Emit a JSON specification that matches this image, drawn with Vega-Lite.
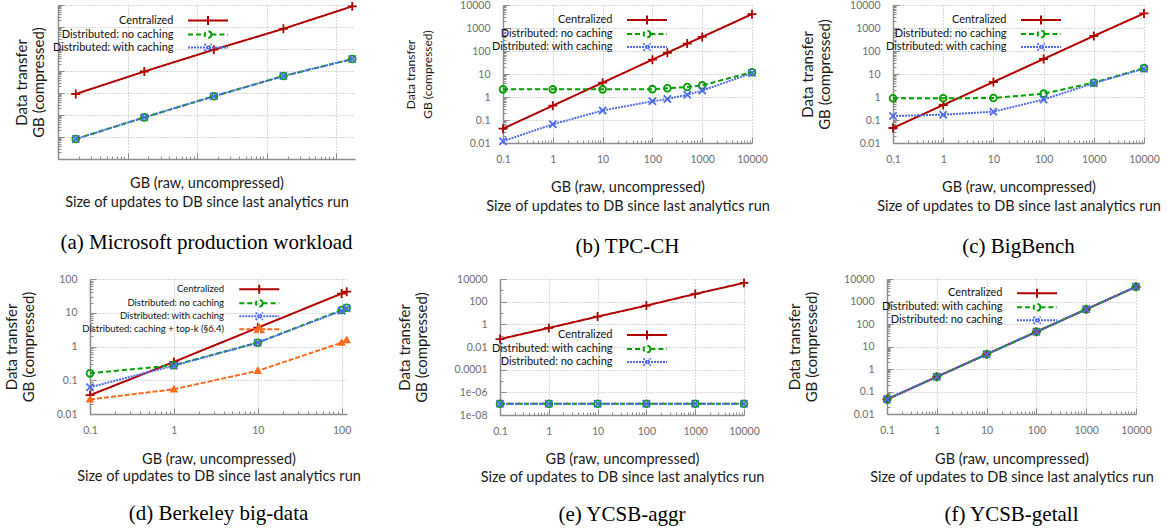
{
  "$schema": "https://vega.github.io/schema/vega-lite/v6.json",
  "background": "white",
  "padding": {"left": 4, "top": -2, "right": 5, "bottom": 5},
  "bounds": "flush",
  "spacing": 274,
  "resolve": {"scale": {"color": "independent", "strokeDash": "independent", "shape": "independent"}},
  "datasets": {
    "a": [
      {"x": 0.18, "y": 0.9, "s": "Centralized"}, {"x": 1.74, "y": 9.5, "s": "Centralized"}, {"x": 17.4, "y": 93, "s": "Centralized"}, {"x": 174, "y": 830, "s": "Centralized"}, {"x": 1700, "y": 8700, "s": "Centralized"},
      {"x": 0.18, "y": 0.0081, "s": "Distributed: no caching"}, {"x": 1.74, "y": 0.078, "s": "Distributed: no caching"}, {"x": 17.4, "y": 0.71, "s": "Distributed: no caching"}, {"x": 174, "y": 5.9, "s": "Distributed: no caching"}, {"x": 1700, "y": 35, "s": "Distributed: no caching"},
      {"x": 0.18, "y": 0.0081, "s": "Distributed: with caching"}, {"x": 1.74, "y": 0.078, "s": "Distributed: with caching"}, {"x": 17.4, "y": 0.71, "s": "Distributed: with caching"}, {"x": 174, "y": 5.9, "s": "Distributed: with caching"}, {"x": 1700, "y": 35, "s": "Distributed: with caching"}
    ],
    "b": [
      {"x": 0.1, "y": 0.042, "s": "Centralized"}, {"x": 1, "y": 0.42, "s": "Centralized"}, {"x": 10, "y": 4.2, "s": "Centralized"}, {"x": 100, "y": 42, "s": "Centralized"}, {"x": 200, "y": 84, "s": "Centralized"}, {"x": 500, "y": 210, "s": "Centralized"}, {"x": 1000, "y": 410, "s": "Centralized"}, {"x": 10000, "y": 4000, "s": "Centralized"},
      {"x": 0.1, "y": 2.15, "s": "Distributed: no caching"}, {"x": 1, "y": 2.15, "s": "Distributed: no caching"}, {"x": 10, "y": 2.15, "s": "Distributed: no caching"}, {"x": 100, "y": 2.2, "s": "Distributed: no caching"}, {"x": 200, "y": 2.4, "s": "Distributed: no caching"}, {"x": 500, "y": 2.7, "s": "Distributed: no caching"}, {"x": 1000, "y": 3.2, "s": "Distributed: no caching"}, {"x": 10000, "y": 12, "s": "Distributed: no caching"},
      {"x": 0.1, "y": 0.012, "s": "Distributed: with caching"}, {"x": 1, "y": 0.065, "s": "Distributed: with caching"}, {"x": 10, "y": 0.26, "s": "Distributed: with caching"}, {"x": 100, "y": 0.65, "s": "Distributed: with caching"}, {"x": 200, "y": 0.82, "s": "Distributed: with caching"}, {"x": 500, "y": 1.25, "s": "Distributed: with caching"}, {"x": 1000, "y": 1.9, "s": "Distributed: with caching"}, {"x": 10000, "y": 11, "s": "Distributed: with caching"}
    ],
    "c": [
      {"x": 0.1, "y": 0.045, "s": "Centralized"}, {"x": 1, "y": 0.45, "s": "Centralized"}, {"x": 10, "y": 4.5, "s": "Centralized"}, {"x": 100, "y": 45, "s": "Centralized"}, {"x": 1000, "y": 450, "s": "Centralized"}, {"x": 10000, "y": 4300, "s": "Centralized"},
      {"x": 0.1, "y": 0.88, "s": "Distributed: no caching"}, {"x": 1, "y": 0.88, "s": "Distributed: no caching"}, {"x": 10, "y": 0.9, "s": "Distributed: no caching"}, {"x": 100, "y": 1.4, "s": "Distributed: no caching"}, {"x": 1000, "y": 4.2, "s": "Distributed: no caching"}, {"x": 10000, "y": 18, "s": "Distributed: no caching"},
      {"x": 0.1, "y": 0.15, "s": "Distributed: with caching"}, {"x": 1, "y": 0.17, "s": "Distributed: with caching"}, {"x": 10, "y": 0.23, "s": "Distributed: with caching"}, {"x": 100, "y": 0.78, "s": "Distributed: with caching"}, {"x": 1000, "y": 4.0, "s": "Distributed: with caching"}, {"x": 10000, "y": 17, "s": "Distributed: with caching"}
    ],
    "d": [
      {"x": 0.1, "y": 0.036, "s": "Centralized"}, {"x": 1, "y": 0.35, "s": "Centralized"}, {"x": 10, "y": 3.6, "s": "Centralized"}, {"x": 100, "y": 37, "s": "Centralized"}, {"x": 115, "y": 42, "s": "Centralized"},
      {"x": 0.1, "y": 0.16, "s": "Distributed: no caching"}, {"x": 1, "y": 0.28, "s": "Distributed: no caching"}, {"x": 10, "y": 1.3, "s": "Distributed: no caching"}, {"x": 100, "y": 12, "s": "Distributed: no caching"}, {"x": 115, "y": 14, "s": "Distributed: no caching"},
      {"x": 0.1, "y": 0.062, "s": "Distributed: with caching"}, {"x": 1, "y": 0.27, "s": "Distributed: with caching"}, {"x": 10, "y": 1.3, "s": "Distributed: with caching"}, {"x": 100, "y": 11.5, "s": "Distributed: with caching"}, {"x": 115, "y": 13.5, "s": "Distributed: with caching"},
      {"x": 0.1, "y": 0.027, "s": "Distributed: caching + top-k (§6.4)"}, {"x": 1, "y": 0.054, "s": "Distributed: caching + top-k (§6.4)"}, {"x": 10, "y": 0.19, "s": "Distributed: caching + top-k (§6.4)"}, {"x": 100, "y": 1.3, "s": "Distributed: caching + top-k (§6.4)"}, {"x": 115, "y": 1.55, "s": "Distributed: caching + top-k (§6.4)"}
    ],
    "e": [
      {"x": 0.1, "y": 0.05, "s": "Centralized"}, {"x": 1, "y": 0.48, "s": "Centralized"}, {"x": 10, "y": 4.8, "s": "Centralized"}, {"x": 100, "y": 45, "s": "Centralized"}, {"x": 1000, "y": 480, "s": "Centralized"}, {"x": 10000, "y": 4500, "s": "Centralized"},
      {"x": 0.1, "y": 1e-7, "s": "Distributed: with caching"}, {"x": 1, "y": 1e-7, "s": "Distributed: with caching"}, {"x": 10, "y": 1e-7, "s": "Distributed: with caching"}, {"x": 100, "y": 1e-7, "s": "Distributed: with caching"}, {"x": 1000, "y": 1e-7, "s": "Distributed: with caching"}, {"x": 10000, "y": 1e-7, "s": "Distributed: with caching"},
      {"x": 0.1, "y": 1e-7, "s": "Distributed: no caching"}, {"x": 1, "y": 1e-7, "s": "Distributed: no caching"}, {"x": 10, "y": 1e-7, "s": "Distributed: no caching"}, {"x": 100, "y": 1e-7, "s": "Distributed: no caching"}, {"x": 1000, "y": 1e-7, "s": "Distributed: no caching"}, {"x": 10000, "y": 1e-7, "s": "Distributed: no caching"}
    ],
    "f": [
      {"x": 0.1, "y": 0.045, "s": "Centralized"}, {"x": 1, "y": 0.45, "s": "Centralized"}, {"x": 10, "y": 4.5, "s": "Centralized"}, {"x": 100, "y": 45, "s": "Centralized"}, {"x": 1000, "y": 450, "s": "Centralized"}, {"x": 10000, "y": 4500, "s": "Centralized"},
      {"x": 0.1, "y": 0.045, "s": "Distributed: with caching"}, {"x": 1, "y": 0.45, "s": "Distributed: with caching"}, {"x": 10, "y": 4.5, "s": "Distributed: with caching"}, {"x": 100, "y": 45, "s": "Distributed: with caching"}, {"x": 1000, "y": 450, "s": "Distributed: with caching"}, {"x": 10000, "y": 4500, "s": "Distributed: with caching"},
      {"x": 0.1, "y": 0.045, "s": "Distributed: no caching"}, {"x": 1, "y": 0.45, "s": "Distributed: no caching"}, {"x": 10, "y": 4.5, "s": "Distributed: no caching"}, {"x": 100, "y": 45, "s": "Distributed: no caching"}, {"x": 1000, "y": 450, "s": "Distributed: no caching"}, {"x": 10000, "y": 4500, "s": "Distributed: no caching"}
    ]
  },
  "vconcat": [
    {
      "bounds": "flush",
      "spacing": 148,
      "resolve": {"scale": {"color": "independent", "strokeDash": "independent", "shape": "independent"}},
      "hconcat": [
        {
          "width": 297, "height": 154,
          "title": {"text": "(a) Microsoft production workload", "offset": 23},
          "data": {"name": "a"},
          "resolve": {"scale": {"color": "independent", "strokeDash": "independent", "shape": "independent"}},
          "layer": [
            {
              "mark": {"type": "line", "strokeWidth": 2},
              "encoding": {
                "x": {"field": "x", "type": "quantitative", "scale": {"type": "log", "domain": [0.1, 1862], "nice": false},
                  "axis": {"labels": false, "title": ["GB (raw, uncompressed)", "Size of updates to DB since last analytics run"], "titlePadding": 17,
                    "gridOpacity": {"condition": {"test": "abs(log(datum.value)/LN10-round(log(datum.value)/LN10))<1e-6", "value": 1}, "value": 0},
                    "tickSize": {"condition": {"test": "abs(log(datum.value)/LN10-round(log(datum.value)/LN10))<1e-6", "value": -6}, "value": -3}}},
                "y": {"field": "y", "type": "quantitative", "scale": {"type": "log", "domain": [0.001, 10000], "nice": false},
                  "axis": {"labels": false, "title": ["Data transfer", "GB (compressed)"], "titlePadding": 11,
                    "gridOpacity": {"condition": {"test": "abs(log(datum.value)/LN10-round(log(datum.value)/LN10))<1e-6", "value": 1}, "value": 0},
                    "tickSize": {"condition": {"test": "abs(log(datum.value)/LN10-round(log(datum.value)/LN10))<1e-6", "value": -6}, "value": -3}}},
                "color": {"field": "s", "type": "nominal", "legend": null, "scale": {"domain": ["Centralized", "Distributed: no caching", "Distributed: with caching"], "range": ["#b00000", "#00a000", "#4f6be6"]}},
                "strokeDash": {"field": "s", "type": "nominal", "legend": null, "scale": {"domain": ["Centralized", "Distributed: no caching", "Distributed: with caching"], "range": [[1, 0], [5, 3], [2, 1]]}}
              }
            },
            {
              "mark": {"type": "point", "filled": false, "size": 81, "strokeWidth": 1.8, "opacity": 1},
              "encoding": {
                "x": {"field": "x", "type": "quantitative"},
                "y": {"field": "y", "type": "quantitative"},
                "color": {"field": "s", "type": "nominal", "legend": null, "scale": {"domain": ["Centralized", "Distributed: no caching", "Distributed: with caching"], "range": ["#b00000", "#00a000", "#4f6be6"]}},
                "shape": {"field": "s", "type": "nominal", "legend": null, "scale": {"domain": ["Centralized", "Distributed: no caching", "Distributed: with caching"], "range": ["M-1,0H1M0,-1V1", "M0.75,0A0.75,0.75 0 1,1 -0.75,0A0.75,0.75 0 1,1 0.75,0", "M-0.8,-0.8L0.8,0.8M-0.8,0.8L0.8,-0.8"]}}
              }
            },
            {
              "transform": [{"filter": "false"}],
              "mark": {"type": "point", "filled": false, "strokeWidth": 2, "opacity": 1},
              "encoding": {
                "color": {"field": "s", "type": "nominal", "legend": {"title": null, "legendX": 144.5, "legendY": 10.1}, "scale": {"domain": ["Centralized", "Distributed: no caching", "Distributed: with caching"], "range": ["#b00000", "#00a000", "#4f6be6"]}},
                "strokeDash": {"field": "s", "type": "nominal", "legend": {"title": null, "legendX": 144.5, "legendY": 10.1}, "scale": {"domain": ["Centralized", "Distributed: no caching", "Distributed: with caching"], "range": [[1, 0], [5, 3], [2, 1]]}},
                "shape": {"field": "s", "type": "nominal", "legend": {"title": null, "legendX": 144.5, "legendY": 10.1}, "scale": {"domain": ["Centralized", "Distributed: no caching", "Distributed: with caching"], "range": ["M-90,0L-90,0M-10,0H10M0,-2.25V2.25", "M-90,0L-90,0M-10,0H-1.7M1.7,0H10M1.7,0A1.7,1.7 0 1,1 -1.7,0A1.7,1.7 0 1,1 1.7,0", "M-90,0L-90,0M-10,0H10M-1.8,-1.8L1.8,1.8M-1.8,1.8L1.8,-1.8"]}}
              }
            }
          ]
        },
        {
          "bounds": "flush",
          "spacing": 141,
          "resolve": {"scale": {"color": "independent", "strokeDash": "independent", "shape": "independent"}},
          "hconcat": [
            {
              "width": 249, "height": 138,
              "title": {"text": "(b) TPC-CH", "offset": 23},
              "data": {"name": "b"},
              "resolve": {"scale": {"color": "independent", "strokeDash": "independent", "shape": "independent"}},
              "layer": [
                {
                  "mark": {"type": "line", "strokeWidth": 2},
                  "encoding": {
                    "x": {"field": "x", "type": "quantitative", "scale": {"type": "log", "domain": [0.1, 10000], "nice": false},
                      "axis": {"labelExpr": "abs(log(datum.value)/LN10-round(log(datum.value)/LN10))<1e-6 ? format(datum.value, '~f') : ''", "title": ["GB (raw, uncompressed)", "Size of updates to DB since last analytics run"], "titlePadding": 13,
                        "gridOpacity": {"condition": {"test": "abs(log(datum.value)/LN10-round(log(datum.value)/LN10))<1e-6", "value": 1}, "value": 0},
                        "tickSize": {"condition": {"test": "abs(log(datum.value)/LN10-round(log(datum.value)/LN10))<1e-6", "value": -6}, "value": -3}}},
                    "y": {"field": "y", "type": "quantitative", "scale": {"type": "log", "domain": [0.01, 10000], "nice": false},
                      "axis": {"labelExpr": "abs(log(datum.value)/LN10-round(log(datum.value)/LN10))<1e-6 ? format(datum.value, '~f') : ''", "title": ["Data transfer", "GB (compressed)"], "titlePadding": 25, "titleFontSize": 12,
                        "gridOpacity": {"condition": {"test": "abs(log(datum.value)/LN10-round(log(datum.value)/LN10))<1e-6", "value": 1}, "value": 0},
                        "tickSize": {"condition": {"test": "abs(log(datum.value)/LN10-round(log(datum.value)/LN10))<1e-6", "value": -6}, "value": -3}}},
                    "color": {"field": "s", "type": "nominal", "legend": null, "scale": {"domain": ["Centralized", "Distributed: no caching", "Distributed: with caching"], "range": ["#b00000", "#00a000", "#4f6be6"]}},
                    "strokeDash": {"field": "s", "type": "nominal", "legend": null, "scale": {"domain": ["Centralized", "Distributed: no caching", "Distributed: with caching"], "range": [[1, 0], [5, 3], [2, 1]]}}
                  }
                },
                {
                  "mark": {"type": "point", "filled": false, "size": 81, "strokeWidth": 1.8, "opacity": 1},
                  "encoding": {
                    "x": {"field": "x", "type": "quantitative"},
                    "y": {"field": "y", "type": "quantitative"},
                    "color": {"field": "s", "type": "nominal", "legend": null, "scale": {"domain": ["Centralized", "Distributed: no caching", "Distributed: with caching"], "range": ["#b00000", "#00a000", "#4f6be6"]}},
                    "shape": {"field": "s", "type": "nominal", "legend": null, "scale": {"domain": ["Centralized", "Distributed: no caching", "Distributed: with caching"], "range": ["M-1,0H1M0,-1V1", "M0.75,0A0.75,0.75 0 1,1 -0.75,0A0.75,0.75 0 1,1 0.75,0", "M-0.8,-0.8L0.8,0.8M-0.8,0.8L0.8,-0.8"]}}
                  }
                },
                {
                  "transform": [{"filter": "false"}],
                  "mark": {"type": "point", "filled": false, "strokeWidth": 2, "opacity": 1},
                  "encoding": {
                    "color": {"field": "s", "type": "nominal", "legend": {"title": null, "legendX": 138.5, "legendY": 9.5}, "scale": {"domain": ["Centralized", "Distributed: no caching", "Distributed: with caching"], "range": ["#b00000", "#00a000", "#4f6be6"]}},
                    "strokeDash": {"field": "s", "type": "nominal", "legend": {"title": null, "legendX": 138.5, "legendY": 9.5}, "scale": {"domain": ["Centralized", "Distributed: no caching", "Distributed: with caching"], "range": [[1, 0], [5, 3], [2, 1]]}},
                    "shape": {"field": "s", "type": "nominal", "legend": {"title": null, "legendX": 138.5, "legendY": 9.5}, "scale": {"domain": ["Centralized", "Distributed: no caching", "Distributed: with caching"], "range": ["M-90,0L-90,0M-10,0H10M0,-2.25V2.25", "M-90,0L-90,0M-10,0H-1.7M1.7,0H10M1.7,0A1.7,1.7 0 1,1 -1.7,0A1.7,1.7 0 1,1 1.7,0", "M-90,0L-90,0M-10,0H10M-1.8,-1.8L1.8,1.8M-1.8,1.8L1.8,-1.8"]}}
                  }
                }
              ]
            },
            {
              "width": 251, "height": 138,
              "title": {"text": "(c) BigBench", "offset": 23},
              "data": {"name": "c"},
              "resolve": {"scale": {"color": "independent", "strokeDash": "independent", "shape": "independent"}},
              "layer": [
                {
                  "mark": {"type": "line", "strokeWidth": 2},
                  "encoding": {
                    "x": {"field": "x", "type": "quantitative", "scale": {"type": "log", "domain": [0.1, 10000], "nice": false},
                      "axis": {"labelExpr": "abs(log(datum.value)/LN10-round(log(datum.value)/LN10))<1e-6 ? format(datum.value, '~f') : ''", "title": ["GB (raw, uncompressed)", "Size of updates to DB since last analytics run"], "titlePadding": 13,
                        "gridOpacity": {"condition": {"test": "abs(log(datum.value)/LN10-round(log(datum.value)/LN10))<1e-6", "value": 1}, "value": 0},
                        "tickSize": {"condition": {"test": "abs(log(datum.value)/LN10-round(log(datum.value)/LN10))<1e-6", "value": -6}, "value": -3}}},
                    "y": {"field": "y", "type": "quantitative", "scale": {"type": "log", "domain": [0.01, 10000], "nice": false},
                      "axis": {"labelExpr": "abs(log(datum.value)/LN10-round(log(datum.value)/LN10))<1e-6 ? format(datum.value, '~f') : ''", "title": ["Data transfer", "GB (compressed)"], "titlePadding": 17,
                        "gridOpacity": {"condition": {"test": "abs(log(datum.value)/LN10-round(log(datum.value)/LN10))<1e-6", "value": 1}, "value": 0},
                        "tickSize": {"condition": {"test": "abs(log(datum.value)/LN10-round(log(datum.value)/LN10))<1e-6", "value": -6}, "value": -3}}},
                    "color": {"field": "s", "type": "nominal", "legend": null, "scale": {"domain": ["Centralized", "Distributed: no caching", "Distributed: with caching"], "range": ["#b00000", "#00a000", "#4f6be6"]}},
                    "strokeDash": {"field": "s", "type": "nominal", "legend": null, "scale": {"domain": ["Centralized", "Distributed: no caching", "Distributed: with caching"], "range": [[1, 0], [5, 3], [2, 1]]}}
                  }
                },
                {
                  "mark": {"type": "point", "filled": false, "size": 81, "strokeWidth": 1.8, "opacity": 1},
                  "encoding": {
                    "x": {"field": "x", "type": "quantitative"},
                    "y": {"field": "y", "type": "quantitative"},
                    "color": {"field": "s", "type": "nominal", "legend": null, "scale": {"domain": ["Centralized", "Distributed: no caching", "Distributed: with caching"], "range": ["#b00000", "#00a000", "#4f6be6"]}},
                    "shape": {"field": "s", "type": "nominal", "legend": null, "scale": {"domain": ["Centralized", "Distributed: no caching", "Distributed: with caching"], "range": ["M-1,0H1M0,-1V1", "M0.75,0A0.75,0.75 0 1,1 -0.75,0A0.75,0.75 0 1,1 0.75,0", "M-0.8,-0.8L0.8,0.8M-0.8,0.8L0.8,-0.8"]}}
                  }
                },
                {
                  "transform": [{"filter": "false"}],
                  "mark": {"type": "point", "filled": false, "strokeWidth": 2, "opacity": 1},
                  "encoding": {
                    "color": {"field": "s", "type": "nominal", "legend": {"title": null, "legendX": 142.5, "legendY": 9.5}, "scale": {"domain": ["Centralized", "Distributed: no caching", "Distributed: with caching"], "range": ["#b00000", "#00a000", "#4f6be6"]}},
                    "strokeDash": {"field": "s", "type": "nominal", "legend": {"title": null, "legendX": 142.5, "legendY": 9.5}, "scale": {"domain": ["Centralized", "Distributed: no caching", "Distributed: with caching"], "range": [[1, 0], [5, 3], [2, 1]]}},
                    "shape": {"field": "s", "type": "nominal", "legend": {"title": null, "legendX": 142.5, "legendY": 9.5}, "scale": {"domain": ["Centralized", "Distributed: no caching", "Distributed: with caching"], "range": ["M-90,0L-90,0M-10,0H10M0,-2.25V2.25", "M-90,0L-90,0M-10,0H-1.7M1.7,0H10M1.7,0A1.7,1.7 0 1,1 -1.7,0A1.7,1.7 0 1,1 1.7,0", "M-90,0L-90,0M-10,0H10M-1.8,-1.8L1.8,1.8M-1.8,1.8L1.8,-1.8"]}}
                  }
                }
              ]
            }
          ]
        }
      ]
    },
    {
      "bounds": "flush",
      "spacing": 31,
      "resolve": {"scale": {"color": "independent", "strokeDash": "independent", "shape": "independent"}},
      "hconcat": [
        {"width": 1, "height": 1, "data": {"values": []}, "mark": "point"},
        {
          "bounds": "flush",
          "spacing": 153,
          "resolve": {"scale": {"color": "independent", "strokeDash": "independent", "shape": "independent"}},
          "hconcat": [
            {
              "width": 257, "height": 135,
              "title": {"text": "(d) Berkeley big-data", "offset": 20},
              "data": {"name": "d"},
              "resolve": {"scale": {"color": "independent", "strokeDash": "independent", "shape": "independent"}},
              "layer": [
                {
                  "mark": {"type": "line", "strokeWidth": 2},
                  "encoding": {
                    "x": {"field": "x", "type": "quantitative", "scale": {"type": "log", "domain": [0.1, 116], "nice": false},
                      "axis": {"labelExpr": "abs(log(datum.value)/LN10-round(log(datum.value)/LN10))<1e-6 ? format(datum.value, '~f') : ''", "title": ["GB (raw, uncompressed)", "Size of updates to DB since last analytics run"], "titlePadding": 14, "titleLineHeight": 17,
                        "gridOpacity": {"condition": {"test": "abs(log(datum.value)/LN10-round(log(datum.value)/LN10))<1e-6", "value": 1}, "value": 0},
                        "tickSize": {"condition": {"test": "abs(log(datum.value)/LN10-round(log(datum.value)/LN10))<1e-6", "value": -6}, "value": -3}}},
                    "y": {"field": "y", "type": "quantitative", "scale": {"type": "log", "domain": [0.01, 100], "nice": false},
                      "axis": {"labelExpr": "abs(log(datum.value)/LN10-round(log(datum.value)/LN10))<1e-6 ? format(datum.value, '~f') : ''", "title": ["Data transfer", "GB (compressed)"], "titlePadding": 20,
                        "gridOpacity": {"condition": {"test": "abs(log(datum.value)/LN10-round(log(datum.value)/LN10))<1e-6", "value": 1}, "value": 0},
                        "tickSize": {"condition": {"test": "abs(log(datum.value)/LN10-round(log(datum.value)/LN10))<1e-6", "value": -6}, "value": -3}}},
                    "color": {"field": "s", "type": "nominal", "legend": null, "scale": {"domain": ["Centralized", "Distributed: no caching", "Distributed: with caching", "Distributed: caching + top-k (§6.4)"], "range": ["#b00000", "#00a000", "#4f6be6", "#ff6a1a"]}},
                    "strokeDash": {"field": "s", "type": "nominal", "legend": null, "scale": {"domain": ["Centralized", "Distributed: no caching", "Distributed: with caching", "Distributed: caching + top-k (§6.4)"], "range": [[1, 0], [5, 3], [2, 1], [5, 2]]}}
                  }
                },
                {
                  "transform": [{"filter": "datum.s !== 'Distributed: caching + top-k (§6.4)'"}],
                  "mark": {"type": "point", "filled": false, "size": 81, "strokeWidth": 1.8, "opacity": 1},
                  "encoding": {
                    "x": {"field": "x", "type": "quantitative"},
                    "y": {"field": "y", "type": "quantitative"},
                    "color": {"field": "s", "type": "nominal", "legend": null, "scale": {"domain": ["Centralized", "Distributed: no caching", "Distributed: with caching", "Distributed: caching + top-k (§6.4)"], "range": ["#b00000", "#00a000", "#4f6be6", "#ff6a1a"]}},
                    "shape": {"field": "s", "type": "nominal", "legend": null, "scale": {"domain": ["Centralized", "Distributed: no caching", "Distributed: with caching", "Distributed: caching + top-k (§6.4)"], "range": ["M-1,0H1M0,-1V1", "M0.75,0A0.75,0.75 0 1,1 -0.75,0A0.75,0.75 0 1,1 0.75,0", "M-0.8,-0.8L0.8,0.8M-0.8,0.8L0.8,-0.8", "M0,-1L0.95,0.7L-0.95,0.7Z"]}}
                  }
                },
                {
                  "transform": [{"filter": "datum.s === 'Distributed: caching + top-k (§6.4)'"}],
                  "mark": {"type": "point", "filled": true, "shape": "M0,-1L0.95,0.7L-0.95,0.7Z", "size": 81, "color": "#ff6a1a", "opacity": 1},
                  "encoding": {
                    "x": {"field": "x", "type": "quantitative"},
                    "y": {"field": "y", "type": "quantitative"}
                  }
                },
                {
                  "transform": [{"filter": "false"}],
                  "mark": {"type": "point", "filled": false, "strokeWidth": 2, "opacity": 1},
                  "encoding": {
                    "color": {"field": "s", "type": "nominal", "legend": {"title": null, "legendX": 164.5, "legendY": 5.5, "labelFontSize": 9.5, "rowPadding": -10}, "scale": {"domain": ["Centralized", "Distributed: no caching", "Distributed: with caching", "Distributed: caching + top-k (§6.4)"], "range": ["#b00000", "#00a000", "#4f6be6", "#ff6a1a"]}},
                    "strokeDash": {"field": "s", "type": "nominal", "legend": {"title": null, "legendX": 164.5, "legendY": 5.5, "labelFontSize": 9.5, "rowPadding": -10}, "scale": {"domain": ["Centralized", "Distributed: no caching", "Distributed: with caching", "Distributed: caching + top-k (§6.4)"], "range": [[1, 0], [5, 3], [2, 1], [5, 2]]}},
                    "shape": {"field": "s", "type": "nominal", "legend": {"title": null, "legendX": 164.5, "legendY": 5.5, "labelFontSize": 9.5, "rowPadding": -10}, "scale": {"domain": ["Centralized", "Distributed: no caching", "Distributed: with caching", "Distributed: caching + top-k (§6.4)"], "range": ["M-90,0L-90,0M-10,0H10M0,-2.25V2.25", "M-90,0L-90,0M-10,0H-1.7M1.7,0H10M1.7,0A1.7,1.7 0 1,1 -1.7,0A1.7,1.7 0 1,1 1.7,0", "M-90,0L-90,0M-10,0H10M-1.8,-1.8L1.8,1.8M-1.8,1.8L1.8,-1.8", "M-90,0L-90,0M-10,0H10M0,-2.2L2.1,1.5L-2.1,1.5ZM0,-1L1,0.8L-1,0.8Z"]}}
                  }
                }
              ]
            },
            {
              "bounds": "flush",
              "spacing": 143,
              "resolve": {"scale": {"color": "independent", "strokeDash": "independent", "shape": "independent"}},
              "hconcat": [
                {
                  "width": 244, "height": 136,
                  "title": {"text": "(e) YCSB-aggr", "offset": 20},
                  "data": {"name": "e"},
                  "resolve": {"scale": {"color": "independent", "strokeDash": "independent", "shape": "independent"}},
                  "layer": [
                    {
                      "mark": {"type": "line", "strokeWidth": 2},
                      "encoding": {
                        "x": {"field": "x", "type": "quantitative", "scale": {"type": "log", "domain": [0.1, 10000], "nice": false},
                          "axis": {"labelExpr": "abs(log(datum.value)/LN10-round(log(datum.value)/LN10))<1e-6 ? format(datum.value, '~f') : ''", "title": ["GB (raw, uncompressed)", "Size of updates to DB since last analytics run"], "titlePadding": 13, "titleLineHeight": 18,
                            "gridOpacity": {"condition": {"test": "abs(log(datum.value)/LN10-round(log(datum.value)/LN10))<1e-6", "value": 1}, "value": 0},
                            "tickSize": {"condition": {"test": "abs(log(datum.value)/LN10-round(log(datum.value)/LN10))<1e-6", "value": -6}, "value": -3}}},
                        "y": {"field": "y", "type": "quantitative", "scale": {"type": "log", "domain": [1e-8, 10000], "nice": false},
                          "axis": {"values": [1e-8, 1e-7, 1e-6, 1e-5, 0.0001, 0.001, 0.01, 0.1, 1, 10, 100, 1000, 10000],
                            "labelExpr": "round(log(datum.value)/LN10)%2==0 ? (datum.value<1e-5 ? '1e-0'+(-round(log(datum.value)/LN10)) : format(datum.value, '~f')) : ''",
                            "title": ["Data transfer", "GB (compressed)"], "titlePadding": 25,
                            "gridOpacity": {"condition": {"test": "round(log(datum.value)/LN10)%2==0", "value": 1}, "value": 0},
                            "tickSize": {"condition": {"test": "round(log(datum.value)/LN10)%2==0", "value": -6}, "value": -3}}},
                        "color": {"field": "s", "type": "nominal", "legend": null, "scale": {"domain": ["Centralized", "Distributed: with caching", "Distributed: no caching"], "range": ["#b00000", "#00a000", "#4f6be6"]}},
                        "strokeDash": {"field": "s", "type": "nominal", "legend": null, "scale": {"domain": ["Centralized", "Distributed: with caching", "Distributed: no caching"], "range": [[1, 0], [5, 3], [2, 1]]}}
                      }
                    },
                    {
                      "mark": {"type": "point", "filled": false, "size": 81, "strokeWidth": 1.8, "opacity": 1},
                      "encoding": {
                        "x": {"field": "x", "type": "quantitative"},
                        "y": {"field": "y", "type": "quantitative"},
                        "color": {"field": "s", "type": "nominal", "legend": null, "scale": {"domain": ["Centralized", "Distributed: with caching", "Distributed: no caching"], "range": ["#b00000", "#00a000", "#4f6be6"]}},
                        "shape": {"field": "s", "type": "nominal", "legend": null, "scale": {"domain": ["Centralized", "Distributed: with caching", "Distributed: no caching"], "range": ["M-1,0H1M0,-1V1", "M0.75,0A0.75,0.75 0 1,1 -0.75,0A0.75,0.75 0 1,1 0.75,0", "M-0.8,-0.8L0.8,0.8M-0.8,0.8L0.8,-0.8"]}}
                      }
                    },
                    {
                      "transform": [{"filter": "false"}],
                      "mark": {"type": "point", "filled": false, "strokeWidth": 2, "opacity": 1},
                      "encoding": {
                        "color": {"field": "s", "type": "nominal", "legend": {"title": null, "legendX": 141.5, "legendY": 50.5}, "scale": {"domain": ["Centralized", "Distributed: with caching", "Distributed: no caching"], "range": ["#b00000", "#00a000", "#4f6be6"]}},
                        "strokeDash": {"field": "s", "type": "nominal", "legend": {"title": null, "legendX": 141.5, "legendY": 50.5}, "scale": {"domain": ["Centralized", "Distributed: with caching", "Distributed: no caching"], "range": [[1, 0], [5, 3], [2, 1]]}},
                        "shape": {"field": "s", "type": "nominal", "legend": {"title": null, "legendX": 141.5, "legendY": 50.5}, "scale": {"domain": ["Centralized", "Distributed: with caching", "Distributed: no caching"], "range": ["M-90,0L-90,0M-10,0H10M0,-2.25V2.25", "M-90,0L-90,0M-10,0H-1.7M1.7,0H10M1.7,0A1.7,1.7 0 1,1 -1.7,0A1.7,1.7 0 1,1 1.7,0", "M-90,0L-90,0M-10,0H10M-1.8,-1.8L1.8,1.8M-1.8,1.8L1.8,-1.8"]}}
                      }
                    }
                  ]
                },
                {
                  "width": 249, "height": 135,
                  "title": {"text": "(f) YCSB-getall", "offset": 20},
                  "data": {"name": "f"},
                  "resolve": {"scale": {"color": "independent", "strokeDash": "independent", "shape": "independent"}},
                  "layer": [
                    {
                      "mark": {"type": "line", "strokeWidth": 2},
                      "encoding": {
                        "x": {"field": "x", "type": "quantitative", "scale": {"type": "log", "domain": [0.1, 10000], "nice": false},
                          "axis": {"labelExpr": "abs(log(datum.value)/LN10-round(log(datum.value)/LN10))<1e-6 ? format(datum.value, '~f') : ''", "title": ["GB (raw, uncompressed)", "Size of updates to DB since last analytics run"], "titlePadding": 14, "titleLineHeight": 18,
                            "gridOpacity": {"condition": {"test": "abs(log(datum.value)/LN10-round(log(datum.value)/LN10))<1e-6", "value": 1}, "value": 0},
                            "tickSize": {"condition": {"test": "abs(log(datum.value)/LN10-round(log(datum.value)/LN10))<1e-6", "value": -6}, "value": -3}}},
                        "y": {"field": "y", "type": "quantitative", "scale": {"type": "log", "domain": [0.01, 10000], "nice": false},
                          "axis": {"labelExpr": "abs(log(datum.value)/LN10-round(log(datum.value)/LN10))<1e-6 ? format(datum.value, '~f') : ''", "title": ["Data transfer", "GB (compressed)"], "titlePadding": 24,
                            "gridOpacity": {"condition": {"test": "abs(log(datum.value)/LN10-round(log(datum.value)/LN10))<1e-6", "value": 1}, "value": 0},
                            "tickSize": {"condition": {"test": "abs(log(datum.value)/LN10-round(log(datum.value)/LN10))<1e-6", "value": -6}, "value": -3}}},
                        "color": {"field": "s", "type": "nominal", "legend": null, "scale": {"domain": ["Centralized", "Distributed: with caching", "Distributed: no caching"], "range": ["#b00000", "#00a000", "#4f6be6"]}},
                        "strokeDash": {"field": "s", "type": "nominal", "legend": null, "scale": {"domain": ["Centralized", "Distributed: with caching", "Distributed: no caching"], "range": [[1, 0], [5, 3], [2, 1]]}}
                      }
                    },
                    {
                      "mark": {"type": "point", "filled": false, "size": 81, "strokeWidth": 1.8, "opacity": 1},
                      "encoding": {
                        "x": {"field": "x", "type": "quantitative"},
                        "y": {"field": "y", "type": "quantitative"},
                        "color": {"field": "s", "type": "nominal", "legend": null, "scale": {"domain": ["Centralized", "Distributed: with caching", "Distributed: no caching"], "range": ["#b00000", "#00a000", "#4f6be6"]}},
                        "shape": {"field": "s", "type": "nominal", "legend": null, "scale": {"domain": ["Centralized", "Distributed: with caching", "Distributed: no caching"], "range": ["M-1,0H1M0,-1V1", "M0.75,0A0.75,0.75 0 1,1 -0.75,0A0.75,0.75 0 1,1 0.75,0", "M-0.8,-0.8L0.8,0.8M-0.8,0.8L0.8,-0.8"]}}
                      }
                    },
                    {
                      "transform": [{"filter": "false"}],
                      "mark": {"type": "point", "filled": false, "strokeWidth": 2, "opacity": 1},
                      "encoding": {
                        "color": {"field": "s", "type": "nominal", "legend": {"title": null, "legendX": 144.5, "legendY": 8.8}, "scale": {"domain": ["Centralized", "Distributed: with caching", "Distributed: no caching"], "range": ["#b00000", "#00a000", "#4f6be6"]}},
                        "strokeDash": {"field": "s", "type": "nominal", "legend": {"title": null, "legendX": 144.5, "legendY": 8.8}, "scale": {"domain": ["Centralized", "Distributed: with caching", "Distributed: no caching"], "range": [[1, 0], [5, 3], [2, 1]]}},
                        "shape": {"field": "s", "type": "nominal", "legend": {"title": null, "legendX": 144.5, "legendY": 8.8}, "scale": {"domain": ["Centralized", "Distributed: with caching", "Distributed: no caching"], "range": ["M-90,0L-90,0M-10,0H10M0,-2.25V2.25", "M-90,0L-90,0M-10,0H-1.7M1.7,0H10M1.7,0A1.7,1.7 0 1,1 -1.7,0A1.7,1.7 0 1,1 1.7,0", "M-90,0L-90,0M-10,0H10M-1.8,-1.8L1.8,1.8M-1.8,1.8L1.8,-1.8"]}}
                      }
                    }
                  ]
                }
              ]
            }
          ]
        }
      ]
    }
  ],
  "config": {
    "view": {"stroke": null},
    "axis": {"labelFont": "Lato", "labelFontSize": 10.5, "labelColor": "#6e6e6e", "labelPadding": 17, "titleFont": "Lato", "titleFontSize": 14.5, "titleFontWeight": "normal", "titleColor": "#1a1a1a", "titleLineHeight": 19, "domainColor": "#8c8c8c", "domainWidth": 1.5, "tickColor": "#8c8c8c", "tickWidth": 1, "gridColor": "#b0b0b0", "gridDash": [1, 2], "gridWidth": 1, "labelOverlap": false, "labelFlush": false, "labelBound": false, "tickCount": 40, "grid": true},
    "axisY": {"labelPadding": 19, "titleFontSize": 15, "titleLineHeight": 17},
    "legend": {"symbolSize": 16, "symbolStrokeWidth": 2, "labelFont": "Lato", "labelFontSize": 11, "labelColor": "#111111", "labelAlign": "right", "labelOffset": -40, "rowPadding": -4, "padding": 0, "labelLimit": 400, "orient": "none"},
    "title": {"font": "Liberation Serif", "fontSize": 21, "fontWeight": "normal", "color": "#000000", "orient": "bottom", "anchor": "middle", "offset": 22}
  }
}
